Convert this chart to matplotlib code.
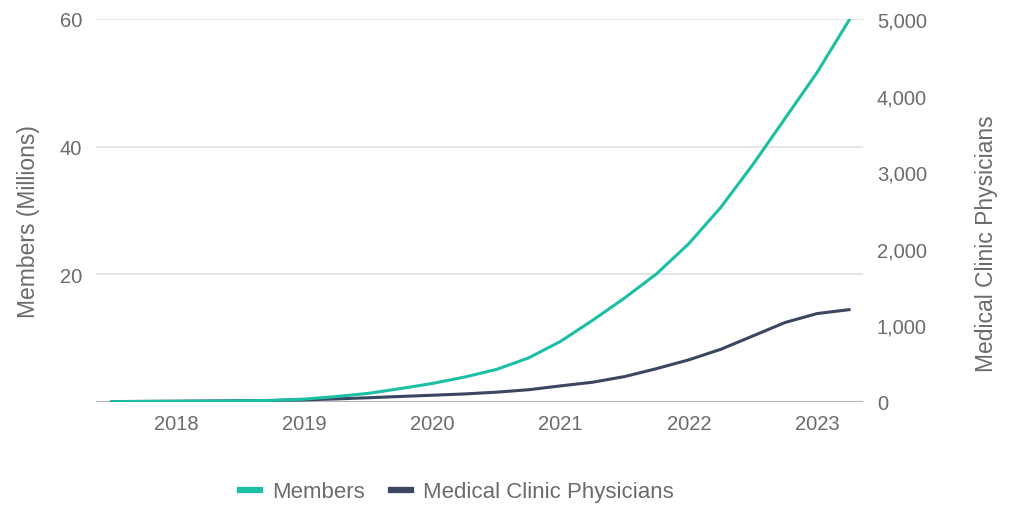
import matplotlib
matplotlib.use("Agg")
import matplotlib.pyplot as plt
from matplotlib.ticker import FuncFormatter

plt.rcParams["font.family"] = ["Liberation Sans", "DejaVu Sans"]

# Quarterly observations (decimal years)
quarters = [2017.5, 2017.75, 2018.0, 2018.25, 2018.5, 2018.75,
            2019.0, 2019.25, 2019.5, 2019.75, 2020.0, 2020.25,
            2020.5, 2020.75, 2021.0, 2021.25, 2021.5, 2021.75,
            2022.0, 2022.25, 2022.5, 2022.75, 2023.0, 2023.25]

# Members, in millions
members = [0.05, 0.08, 0.1, 0.13, 0.17, 0.25,
           0.45, 0.85, 1.35, 2.1, 2.9, 3.9,
           5.1, 6.9, 9.5, 12.8, 16.3, 20.1,
           24.8, 30.5, 37.2, 44.4, 51.6, 59.8]

# Medical clinic physicians (count)
physicians = [5, 8, 10, 13, 16, 20,
              28, 40, 55, 72, 88, 105,
              128, 160, 210, 258, 332, 436,
              550, 688, 862, 1037, 1154, 1205]

year_ticks = [2018, 2019, 2020, 2021, 2022, 2023]
left_ticks = [20, 40, 60]
right_ticks = [0, 1000, 2000, 3000, 4000, 5000]

TEAL = "#1bbfa3"
NAVY = "#3b4661"
TEXT = "#6b6b6b"
GRID = "#e3e3e3"

fig = plt.figure(figsize=(10.13, 5.06), dpi=100)
ax = fig.add_axes([0.0948, 0.2036, 0.757, 0.7569])
ax2 = ax.twinx()

ax.set_xlim(2017.376, 2023.358)
ax.set_ylim(0, 60)
ax2.set_ylim(0, 5000)

for y in left_ticks:
    ax.axhline(y, color=GRID, lw=1.3, zorder=0)
ax.axhline(0, color="#b5b5b5", lw=1.6, zorder=1)

l2, = ax2.plot(quarters, physicians, color=NAVY, lw=2.2,
               label="Medical Clinic Physicians", zorder=2,
               solid_joinstyle="round")
l1, = ax2.plot(quarters, members, color=TEAL, lw=2.2, label="Members",
               transform=ax.transData, zorder=3, solid_joinstyle="round")

ax.set_xticks(year_ticks)
ax.set_yticks(left_ticks)
ax2.set_yticks(right_ticks)
ax2.yaxis.set_major_formatter(FuncFormatter(lambda v, p: f"{int(v):,}"))

for a in (ax, ax2):
    for s in a.spines.values():
        s.set_visible(False)
    a.tick_params(length=0, labelsize=14.5, labelcolor=TEXT)
ax.tick_params(axis="x", pad=9)
ax.tick_params(axis="y", pad=10)
ax2.tick_params(axis="y", pad=10)

ax.set_ylabel("Members (Millions)", fontsize=16.5, color=TEXT)
ax.yaxis.set_label_coords(-0.073, 0.474)
ax2.set_ylabel("Medical Clinic Physicians", fontsize=16.5, color=TEXT)
ax2.yaxis.set_label_coords(1.146, 0.416)

leg = fig.legend(handles=[l1, l2], loc="center", bbox_to_anchor=(0.451, 0.026),
                 ncol=2, frameon=False, fontsize=16, handlelength=0.9,
                 handletextpad=0.55, columnspacing=1.2)
for h in leg.legend_handles:
    h.set_linewidth(4.5)
for t in leg.get_texts():
    t.set_color(TEXT)

fig.savefig("out.png", dpi=100)
